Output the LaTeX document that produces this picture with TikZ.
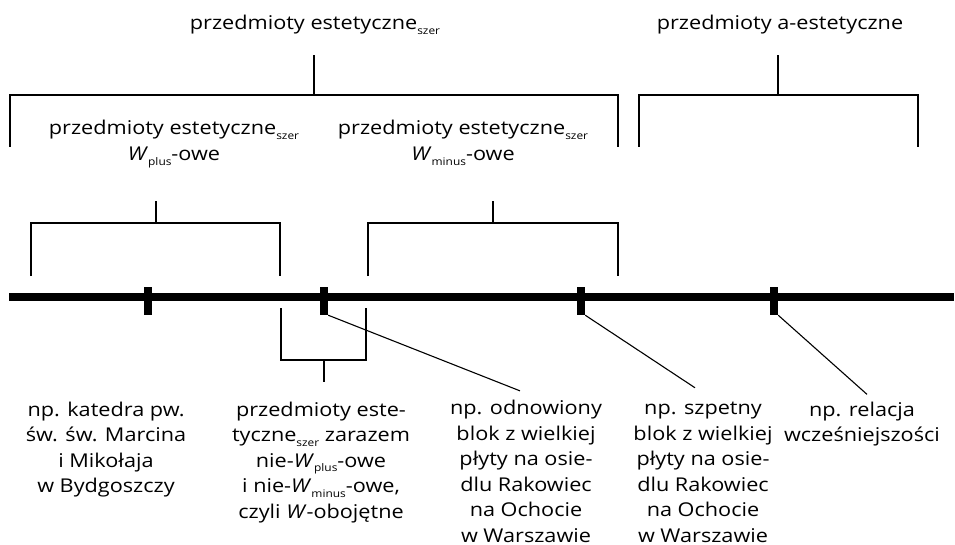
\documentclass[tikz,border=0pt]{standalone}
\usepackage{fontspec}
\setmainfont{Open Sans}[FakeStretch=1.14]
\newcommand\ind[1]{\raisebox{-0.45ex}{\scalebox{0.55}{#1}}}
\newcommand\Wi{\textit{W}}

\begin{document}
\begin{tikzpicture}[x=1pt,y=-1pt,
  lbl/.style={font=\fontsize{19}{25.5}\selectfont,align=center,inner sep=0pt,anchor=base},
  brk/.style={line width=1.1pt},
  lead/.style={line width=1.1pt},
  tick/.style={fill=black,inner sep=0pt,minimum width=8pt,minimum height=28pt}]
\useasboundingbox (0,0) rectangle (955,545);

% os
\draw[line width=8pt] (9,297) -- (954,297);
\node[tick] (t1) at (148,301) {};
\node[tick] (t2) at (324,301) {};
\node[tick] (t3) at (581,301) {};
\node[tick] (t4) at (774,301) {};

% gorne podzialy (base = ostatnia linia)
\node[lbl] (estet) at (315,30) {przedmioty estetyczne\ind{szer}};
\node[lbl] (aestet) at (780,30) {przedmioty a-estetyczne};
\draw[brk] (10,147) |- (618,95) -- (618,147);
\draw[brk] (314,95) -- (314,55);
\draw[brk] (639,147) |- (918,95) -- (918,147);
\draw[brk] (778,95) -- (778,55);

\node[lbl] (wplus) at (174,160.5) {przedmioty estetyczne\ind{szer}\\\Wi\ind{plus}-owe};
\node[lbl] (wminus) at (463,160.5) {przedmioty estetyczne\ind{szer}\\\Wi\ind{minus}-owe};
\draw[brk] (31,276) |- (280,223) -- (280,276);
\draw[brk] (156,223) -- (156,201);
\draw[brk] (368,276) |- (618,223) -- (618,276);
\draw[brk] (493,223) -- (493,201);

% dolne etykiety
\draw[brk] (281,308) |- (366,360) -- (366,308);
\draw[brk] (324,360) -- (324,382);
\node[lbl] (katedra) at (106,492.5) {np. katedra pw.\\św. św. Marcina\\i Mikołaja\\w Bydgoszczy};
\node[lbl] (oboj) at (321,518) {przedmioty este-\\tyczne\ind{szer} zarazem\\nie-\Wi\ind{plus}-owe\\i nie-\Wi\ind{minus}-owe,\\czyli \Wi-obojętne};
\node[lbl] (odnow) at (526,542) {np. odnowiony\\blok z wielkiej\\płyty na osie-\\dlu Rakowiec\\na Ochocie\\w Warszawie};
\node[lbl] (szpet) at (703,542) {np. szpetny\\blok z wielkiej\\płyty na osie-\\dlu Rakowiec\\na Ochocie\\w Warszawie};
\node[lbl] (relac) at (862,441.5) {np. relacja\\wcześniejszości};

\draw[lead] (t2.south east) -- ([shift={(-6pt,9pt)}]odnow.north);
\draw[lead] (t3.south east) -- ([shift={(-8pt,14pt)}]szpet.north);
\draw[lead] (t4.south east) -- ([shift={(5pt,7pt)}]relac.north);
\end{tikzpicture}
\end{document}
